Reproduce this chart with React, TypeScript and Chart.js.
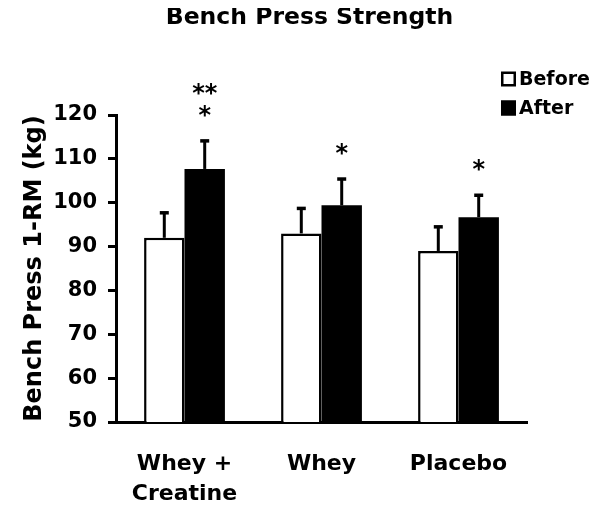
import React, { useEffect, useRef } from "react";
import { Chart, registerables } from "chart.js";

Chart.register(...registerables);

// ---- data ----
const categories: (string | string[])[] = [["Whey +", "Creatine"], "Whey", "Placebo"];
const seriesNames = ["Before", "After"];
const beforeValues = [92, 93, 89];
const beforeErrors = [5.7, 5.7, 5.5];
const afterValues = [107.7, 99.4, 96.7];
const afterErrors = [6.4, 6.0, 5.0];
const afterSignificance = [["**", "*"], ["*"], ["*"]];
const yMin = 50;
const yMax = 120;
const yStep = 10;
const chartTitle = "Bench Press Strength";
const yAxisTitle = "Bench Press 1-RM (kg)";

const FONT = "'DejaVu Sans', sans-serif";

const errorBarPlugin = {
  id: "errorBars",
  afterDatasetsDraw(chart: any) {
    const ctx = chart.ctx as CanvasRenderingContext2D;
    const yScale = chart.scales.y;
    chart.data.datasets.forEach((ds: any, di: number) => {
      const meta = chart.getDatasetMeta(di);
      const errs: number[] | undefined = ds.errors;
      if (!errs) return;
      meta.data.forEach((bar: any, i: number) => {
        const v = ds.data[i] as number;
        const top = yScale.getPixelForValue(v + errs[i]);
        ctx.save();
        ctx.strokeStyle = "#000";
        ctx.lineWidth = 3;
        ctx.beginPath();
        ctx.moveTo(bar.x, bar.y);
        ctx.lineTo(bar.x, top);
        ctx.stroke();
        ctx.lineWidth = 3.5;
        ctx.beginPath();
        ctx.moveTo(bar.x - 4.5, top);
        ctx.lineTo(bar.x + 4.5, top);
        ctx.stroke();
        const sig: string[] | undefined = ds.significance ? ds.significance[i] : undefined;
        if (sig && sig.length) {
          ctx.font = `bold 24px ${FONT}`;
          ctx.textAlign = "center";
          ctx.textBaseline = "alphabetic";
          ctx.fillStyle = "#000";
          const m = ctx.measureText("*");
          const asc = m.actualBoundingBoxAscent;
          const desc = m.actualBoundingBoxDescent;
          const n = sig.length;
          for (let k = 0; k < n; k++) {
            const cy = top - 30 - (n - 1 - k) * 22;
            ctx.fillText(sig[k], bar.x, cy + (asc - desc) / 2);
          }
        }
        ctx.restore();
      });
    });
  },
};

const sideLegendPlugin = {
  id: "sideLegend",
  afterDraw(chart: any) {
    const ctx = chart.ctx as CanvasRenderingContext2D;
    chart.data.datasets.forEach((ds: any, i: number) => {
      const cy = 71 + i * 29;
      const x = 481;
      const s = 15;
      ctx.save();
      ctx.fillStyle = ds.backgroundColor;
      ctx.fillRect(x, cy - s / 2, s, s);
      ctx.strokeStyle = "#000";
      ctx.lineWidth = 2.5;
      ctx.strokeRect(x + 1.25, cy - s / 2 + 1.25, s - 2.5, s - 2.5);
      ctx.font = `bold 19px ${FONT}`;
      ctx.textBaseline = "middle";
      ctx.textAlign = "left";
      ctx.fillStyle = "#000";
      ctx.fillText(ds.label, x + 18, cy + 1);
      ctx.restore();
    });
  },
};

export default function App() {
  const canvasRef = useRef<HTMLCanvasElement>(null);

  useEffect(() => {
    if (!canvasRef.current) return;
    const chart = new Chart(canvasRef.current, {
      type: "bar",
      data: {
        labels: categories,
        datasets: [
          {
            label: seriesNames[0],
            data: beforeValues,
            errors: beforeErrors,
            backgroundColor: "#ffffff",
            borderColor: "#000000",
            borderWidth: 2.5,
            borderSkipped: "bottom",
          } as any,
          {
            label: seriesNames[1],
            data: afterValues,
            errors: afterErrors,
            significance: afterSignificance,
            backgroundColor: "#000000",
            borderColor: "#000000",
            borderWidth: 0,
          } as any,
        ],
      },
      options: {
        animation: false,
        responsive: true,
        maintainAspectRatio: false,
        layout: { padding: 0 },
        datasets: { bar: { categoryPercentage: 0.59, barPercentage: 1 } },
        plugins: {
          legend: { display: false },
          tooltip: { enabled: false },
          title: {
            display: true,
            text: chartTitle,
            color: "#000",
            align: "center",
            font: { family: FONT, weight: "bold", size: 23.5 },
            padding: { top: -4, bottom: 82.8 },
          },
        },
        scales: {
          x: {
            grid: { display: false, drawTicks: false },
            border: { display: true, color: "#000", width: 3 },
            ticks: {
              color: "#000",
              font: { family: FONT, weight: "bold", size: 22, lineHeight: 1.38 },
              padding: 27,
              maxRotation: 0,
              autoSkip: false,
            },
            afterFit: (s: any) => {
              s.height = 82;
            },
          },
          y: {
            min: yMin,
            max: yMax,
            ticks: {
              stepSize: yStep,
              color: "#000",
              font: { family: FONT, weight: "bold", size: 21 },
              padding: 11,
            },
            grid: {
              drawOnChartArea: false,
              drawTicks: true,
              tickLength: 8,
              color: "#000",
              lineWidth: 3,
            },
            border: { display: true, color: "#000", width: 3 },
            title: {
              display: true,
              text: yAxisTitle,
              color: "#000",
              font: { family: FONT, weight: "bold", size: 24 },
              padding: { top: 0, bottom: 0 },
            },
            afterFit: (s: any) => {
              s.width = 96;
            },
          },
          yRightSpace: {
            position: "right",
            display: true,
            grid: { display: false, drawTicks: false },
            border: { display: false },
            ticks: { display: false },
            title: { display: false },
            afterFit: (s: any) => {
              s.width = 72;
            },
          },
        },
      } as any,
      plugins: [errorBarPlugin, sideLegendPlugin],
    });
    return () => chart.destroy();
  }, []);

  return (
    <div style={{ marginLeft: 12, width: 579, height: 496, position: "relative" }}>
      <canvas ref={canvasRef} />
    </div>
  );
}
